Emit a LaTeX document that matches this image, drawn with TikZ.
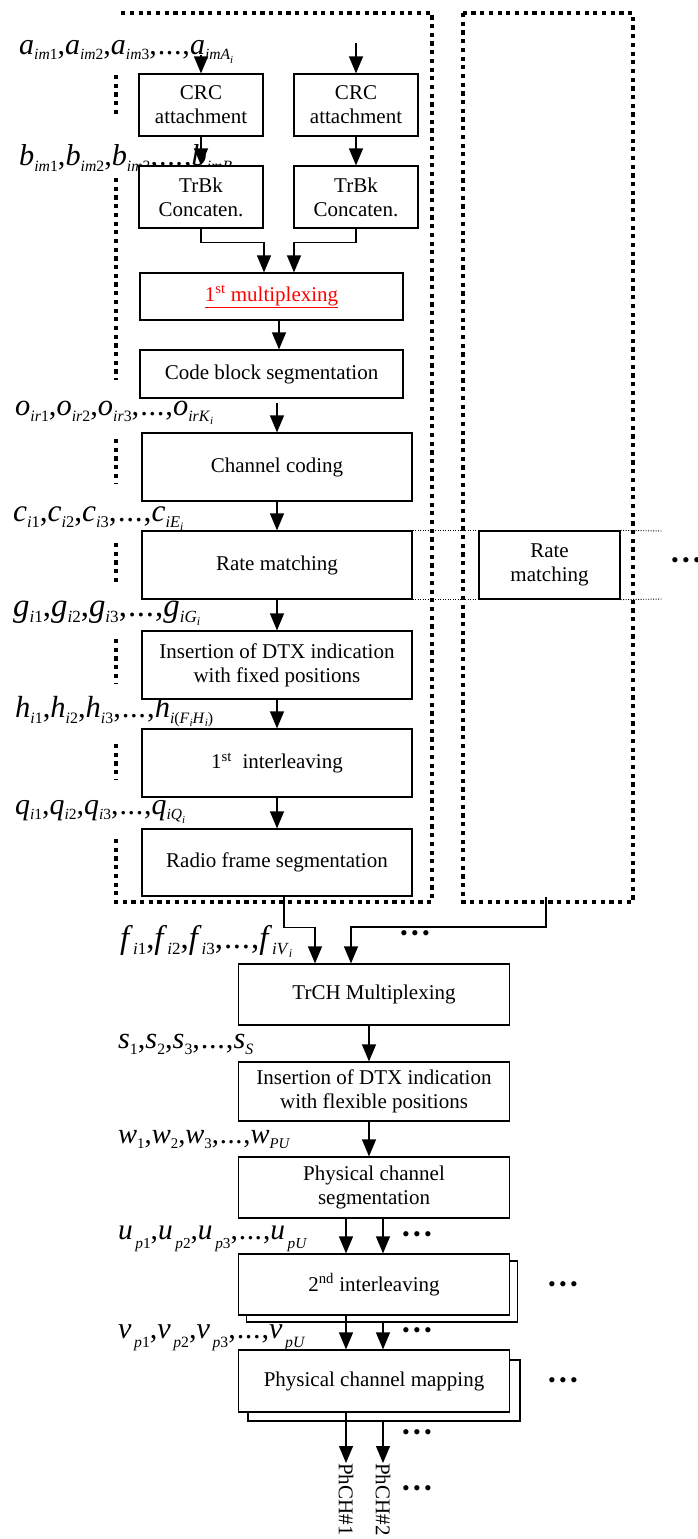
\documentclass[tikz,border=0pt]{standalone}
\usepackage{fontspec}
\setmainfont{Liberation Serif}
\usepackage{graphicx}
\usetikzlibrary{arrows.meta}
\newcommand\Ls[1]{\raisebox{-0.2em}{\scalebox{0.52}{#1}}}
\newcommand\Lsd[1]{\raisebox{-0.32em}{\scalebox{0.52}{#1}}}
\newcommand\Lss[1]{\raisebox{-0.2em}{\scalebox{0.7}{#1}}}
\newcommand\Ld{\kern1pt.\kern0.6pt.\kern0.6pt.\kern1pt}
\newcommand\Lab[2]{\resizebox{#1pt}{!}{#2}}
\newcommand\Tdots{\textbullet\hspace{3.3pt}\textbullet\hspace{3.3pt}\textbullet}
\begin{document}
\begin{tikzpicture}[x=1pt,y=-1pt]
\tikzset{
 box/.style={draw, line width=1.2pt, fill=white, inner sep=0pt, align=center, font=\fontsize{21}{24}\selectfont, text=black},
 arr/.style={line width=1.2pt, -{Triangle[width=14pt,length=17pt]}},
 bigdot/.style={line width=3.6pt, dash pattern=on 4.2pt off 4.5pt},
 thindot/.style={line width=0.9pt, dash pattern=on 1pt off 1.5pt},
 lab/.style={anchor=base west, inner sep=0pt, font=\fontsize{30}{30}\selectfont},
 dots/.style={inner sep=0pt, font=\fontsize{22}{22}\selectfont},
 phl/.style={rotate=-90, anchor=west, inner sep=0pt, font=\fontsize{21}{24}\selectfont}
}
\useasboundingbox (0,0) rectangle (698,1539);
% group frames
\draw[bigdot] (116,839) -- (116,902) -- (432,902) -- (432,13) -- (118,13);
\draw[bigdot] (116,75) -- (116,118);
\draw[bigdot] (116,178) -- (116,380);
\draw[bigdot] (116,439) -- (116,483);
\draw[bigdot] (116,543) -- (116,582);
\draw[bigdot] (116,639) -- (116,683);
\draw[bigdot] (116,744) -- (116,779);
\draw[bigdot] (463,13) rectangle (633,902);
% labels
\node[lab] (la) at (19,54) {\Lab{214}{\textit{a}\Ls{\textit{im}1},\textit{a}\Ls{\textit{im}2},\textit{a}\Ls{\textit{im}3},\Ld,\textit{a}\Ls{\textit{imA}\Lss{\textit{i}}}}};
\node[lab] (lb) at (19,165) {\Lab{216}{\textit{b}\Ls{\textit{im}1},\textit{b}\Ls{\textit{im}2},\textit{b}\Ls{\textit{im}3},\Ld,\textit{b}\Ls{\textit{imB}\Lss{\textit{i}}}}};
\node[lab] (lo) at (15,415) {\Lab{198}{\textit{o}\Ls{\textit{ir}1},\textit{o}\Ls{\textit{ir}2},\textit{o}\Ls{\textit{ir}3},\Ld,\textit{o}\Ls{\textit{irK}\Lss{\textit{i}}}}};
\node[lab] (lc) at (13,521) {\Lab{170}{\textit{c}\Ls{\textit{i}1},\textit{c}\Ls{\textit{i}2},\textit{c}\Ls{\textit{i}3},\Ld,\textit{c}\Ls{\textit{iE}\Lss{\textit{i}}}}};
\node[lab] (lg) at (13,616) {\Lab{187}{\textit{g}\Ls{\textit{i}1},\textit{g}\Ls{\textit{i}2},\textit{g}\Ls{\textit{i}3},\Ld,\textit{g}\Ls{\textit{iG}\Lss{\textit{i}}}}};
\node[lab] (lh) at (15,717) {\Lab{198}{\textit{h}\Ls{\textit{i}1},\textit{h}\Ls{\textit{i}2},\textit{h}\Ls{\textit{i}3},\Ld,\textit{h}\Ls{\textit{i}(\textit{F}\Lss{\textit{i}}\textit{H}\Lss{\textit{i}})}}};
\node[lab] (lq) at (15,814) {\Lab{170}{\textit{q}\Ls{\textit{i}1},\textit{q}\Ls{\textit{i}2},\textit{q}\Ls{\textit{i}3},\Ld,\textit{q}\Ls{\textit{iQ}\Lss{\textit{i}}}}};
\node[lab] (lf) at (120,948) {\Lab{172}{\textit{f}\Ls{\textit{i}1},\textit{f}\Ls{\textit{i}2},\textit{f}\Ls{\textit{i}3},\Ld,\textit{f}\Ls{\textit{iV}\Lss{\textit{i}}}}};
\node[lab] (ls) at (118,1048) {\Lab{135}{\textit{s}\Ls{1},\textit{s}\Ls{2},\textit{s}\Ls{3},\Ld,\textit{s}\Ls{\textit{S}}}};
\node[lab] (lw) at (118,1143) {\Lab{172}{\textit{w}\Ls{1},\textit{w}\Ls{2},\textit{w}\Ls{3},\Ld,\textit{w}\Ls{\textit{PU}}}};
\node[lab] (lu) at (118,1239) {\Lab{189}{\textit{u}\Lsd{\,\textit{p}1},\textit{u}\Lsd{\,\textit{p}2},\textit{u}\Lsd{\,\textit{p}3},\Ld,\textit{u}\Lsd{\,\textit{pU}}}};
\node[lab] (lv) at (118,1338) {\Lab{187}{\textit{v}\Lsd{\,\textit{p}1},\textit{v}\Lsd{\,\textit{p}2},\textit{v}\Lsd{\,\textit{p}3},\Ld,\textit{v}\Lsd{\,\textit{pU}}}};
% boxes
\node[box, minimum width=124pt, minimum height=62pt] (crc1) at (201,105) {CRC\\attachment};
\node[box, minimum width=124pt, minimum height=62pt] (crc2) at (356,105) {CRC\\attachment};
\node[box, minimum width=124pt, minimum height=62pt] (trbk1) at (201,197) {TrBk\\Concaten.};
\node[box, minimum width=124pt, minimum height=62pt] (trbk2) at (356,197) {TrBk\\Concaten.};
\node[box, minimum width=263pt, minimum height=47pt] (mux) at (271.5,296.5) {\textcolor{red}{\underline{1\textsuperscript{st} multiplexing}}};
\node[box, minimum width=263pt, minimum height=48pt] (code) at (271.5,374) {Code block segmentation};
\node[box, minimum width=270pt, minimum height=68pt] (chan) at (277,467) {Channel coding};
\node[box, minimum width=270pt, minimum height=68pt] (rate) at (277,565) {Rate matching};
\node[box, minimum width=270pt, minimum height=68pt] (insf) at (277,665) {Insertion of DTX indication\\with fixed positions};
\node[box, minimum width=270pt, minimum height=68pt] (int1) at (277,763) {1\textsuperscript{st}\ \ interleaving};
\node[box, minimum width=270pt, minimum height=67pt] (radio) at (277,862.5) {Radio frame segmentation};
\node[box, minimum width=141pt, minimum height=68pt] (rate2) at (549.5,565) {Rate\\matching};
\node[box, minimum width=271pt, minimum height=61pt] (trch) at (374,994.5) {TrCH Multiplexing};
\node[box, minimum width=271pt, minimum height=59pt] (insx) at (374,1091.5) {Insertion of DTX indication\\with flexible positions};
\node[box, minimum width=271pt, minimum height=61pt] (seg) at (374,1187.5) {Physical channel\\segmentation};
\node[box, minimum width=271pt, minimum height=61pt] (int2s) at (382,1291.5) {};
\node[box, minimum width=271pt, minimum height=61pt] (int2) at (374,1284.5) {2\textsuperscript{nd} interleaving};
\node[box, minimum width=272pt, minimum height=61pt] (maps) at (384,1390.5) {};
\node[box, minimum width=271pt, minimum height=62pt] (map) at (374,1381) {Physical channel mapping};
\node[phl] (ph1) at (346,1463) {PhCH\#1};
\node[phl] (ph2) at (383,1463) {PhCH\#2};
% thin dotted guides
\draw[thindot] (rate.north east) -- (rate2.north west);
\draw[thindot] (rate.south east) -- (rate2.south west);
\draw[thindot] (rate2.north east) -- (663,531);
\draw[thindot] (rate2.south east) -- (663,599);
% dots
\node[dots] (d1) at (415,936) {\Tdots};
\node[dots] (d2) at (686,563) {\Tdots};
\node[dots] (d3) at (417,1237) {\Tdots};
\node[dots] (d4) at (563,1287) {\Tdots};
\node[dots] (d5) at (417,1333) {\Tdots};
\node[dots] (d6) at (563,1383) {\Tdots};
\node[dots] (d7) at (417,1435) {\Tdots};
\node[dots] (d8) at (417,1491) {\Tdots};
% connectors
\coordinate (ain) at (201,55);
\coordinate (bin) at (356,43);
\coordinate (rb) at (546,897);
\coordinate (colA) at (346,0);
\coordinate (colB) at (383,0);
\draw[arr] (ain) -- (crc1.north);
\draw[arr] (bin) -- (crc2.north);
\draw[arr] (crc1) -- (trbk1);
\draw[arr] (crc2) -- (trbk2);
\draw[arr] (trbk1.south) -- ++(0,14) -| ([xshift=-7.5pt]mux.north);
\draw[arr] (trbk2.south) -- ++(0,14) -| ([xshift=22.5pt]mux.north);
\draw[arr] ([xshift=7.5pt]mux.south) -- ([xshift=7.5pt]code.north);
\draw[arr, shorten <=4pt] (code.south -| chan.north) -- (chan.north);
\draw[arr] (chan) -- (rate);
\draw[arr] (rate) -- (insf);
\draw[arr] (insf) -- (int1);
\draw[arr] (int1) -- (radio);
\draw[arr] ([xshift=7pt]radio.south) -- ++(0,31) -| ([xshift=-59pt]trch.north);
\draw[arr] (rb) -- ++(0,30) -| ([xshift=-23pt]trch.north);
\draw[arr] ([xshift=-5pt]trch.south) -- ([xshift=-5pt]insx.north);
\draw[arr] ([xshift=-5pt]insx.south) -- ([xshift=-5pt]seg.north);
\draw[arr] (colA |- seg.south) -- (colA |- int2.north);
\draw[arr] (colB |- seg.south) -- (colB |- int2.north);
\draw[arr] (colA |- int2.south) -- (colA |- map.north);
\draw[arr] (colB |- int2s.south) -- (colB |- map.north);
\draw[arr] (colA |- map.south) -- (ph1.west);
\draw[arr] (colB |- maps.south) -- (ph2.west);
\end{tikzpicture}
\end{document}
